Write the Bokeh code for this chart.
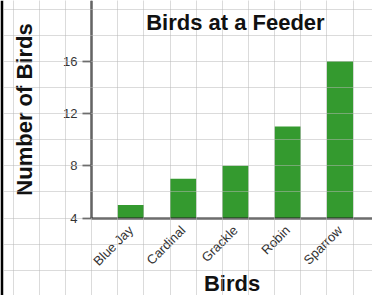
import numpy as np
from math import pi
from bokeh.plotting import figure
from bokeh.models import Range1d, FixedTicker, Label
from bokeh.embed import file_html
from bokeh.resources import INLINE

# ---- data ----
birds = ["Blue Jay", "Cardinal", "Grackle", "Robin", "Sparrow"]
counts = [5, 7, 8, 11, 16]
y_ticks = [4, 8, 12, 16]
chart_title = "Birds at a Feeder"
x_title = "Birds"
y_title = "Number of Birds"

# ---- layout ----
W, H = 372, 295
EDGE = 3         # dark strip at the left edge
PX_X = 52.3      # pixels per category
PX_Y = 13.06     # pixels per bird
y_base = 4
y_top = 20
x_start = -(130.3 - EDGE) / PX_X
x_end = x_start + (W - EDGE) / PX_X
y_end = y_base + 217.5 / PX_Y
y_start = y_end - H / PX_Y

idx = list(range(len(birds)))
GREEN = "#349a2f"
FONT = "Liberation Sans"

p = figure(width=W, height=H,
           x_range=Range1d(x_start, x_end), y_range=Range1d(y_start, y_end),
           output_backend="svg", toolbar_location=None,
           min_border=0, min_border_left=EDGE)
p.outline_line_color = None
p.background_fill_color = "white"
p.border_fill_color = "black"

p.vbar(x=idx, top=counts, bottom=y_base, width=0.5, fill_color=GREEN, line_color=None)

# grid paper
p.xgrid.ticker = FixedTicker(ticks=list(np.arange(-2.25, 5.0, 0.5)))
p.ygrid.ticker = FixedTicker(ticks=list(range(0, y_top + 1, 2)))
p.ygrid.bounds = (-2.25, 6)
p.xgrid.bounds = (y_start - 1, y_top)
for g in (p.xgrid, p.ygrid):
    g.grid_line_color = "#b8b8b8"
    g.grid_line_alpha = 0.5
    g.grid_line_width = 1
    g.level = "guide"

# axes
xa = p.xaxis[0]
xa.fixed_location = y_base
xa.bounds = (-0.75, len(birds) - 0.25)
xa.ticker = FixedTicker(ticks=idx)
xa.major_label_overrides = {i: b for i, b in enumerate(birds)}
xa.major_label_orientation = pi / 4
xa.major_tick_out = 0
xa.major_tick_in = 0
xa.minor_tick_out = 0
xa.minor_tick_in = 0
xa.axis_line_color = "#222222"
xa.axis_line_width = 2
xa.major_label_text_font = FONT
xa.major_label_text_font_size = "13px"
xa.major_label_text_color = "#333333"
xa.major_label_standoff = 10
xa.axis_label = x_title
xa.axis_label_text_font = FONT
xa.axis_label_text_font_size = "22px"
xa.axis_label_text_font_style = "bold"
xa.axis_label_text_color = "#111111"
xa.axis_label_standoff = -6

ya = p.yaxis[0]
ya.fixed_location = -0.75
ya.bounds = (y_base, y_end)
ya.ticker = FixedTicker(ticks=y_ticks)
ya.major_tick_out = 9
ya.major_tick_in = 0
ya.minor_tick_out = 0
ya.minor_tick_in = 0
ya.major_tick_line_width = 1.5
ya.major_tick_line_color = "#222222"
ya.axis_line_color = "#111111"
ya.axis_line_width = 2
ya.major_label_text_font = FONT
ya.major_label_text_font_size = "13px"
ya.major_label_text_color = "#333333"
ya.major_label_standoff = 5
ya.axis_label = y_title
ya.axis_label_text_font = FONT
ya.axis_label_text_font_size = "22px"
ya.axis_label_text_font_style = "bold"
ya.axis_label_text_color = "#111111"
ya.axis_label_standoff = 23

title = Label(x=(len(birds) - 1) / 2, y=H - 22, y_units="screen",
              text=chart_title, text_align="center", text_baseline="alphabetic",
              text_font=FONT, text_font_size="22px", text_font_style="bold",
              text_color="#111111")
p.add_layout(title)

open("out.html", "w").write(file_html(p, INLINE))
